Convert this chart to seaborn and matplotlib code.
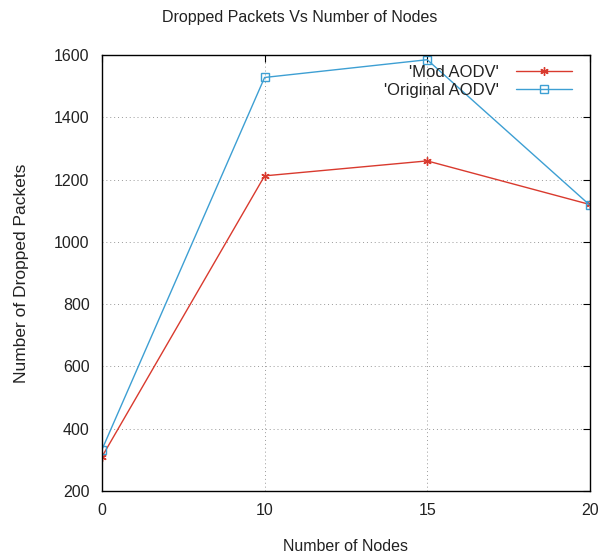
import numpy as np
import pandas as pd
import matplotlib
matplotlib.use("Agg")
import matplotlib.pyplot as plt
import seaborn as sns

# data
nodes = [0, 10, 15, 20]
mod_aodv = [310, 1212, 1260, 1120]
orig_aodv = [333, 1528, 1585, 1118]
series_names = ["'Mod AODV'", "'Original AODV'"]

# x axis in the original is evenly spaced categories
pos = list(range(len(nodes)))
df = pd.DataFrame({
    "pos": pos * 2,
    "dropped": mod_aodv + orig_aodv,
    "proto": [series_names[0]] * len(nodes) + [series_names[1]] * len(nodes),
})

sns.set_style("white")
plt.rcParams["font.family"] = ["Liberation Sans", "DejaVu Sans"]

fig = plt.figure(figsize=(6, 5.56), dpi=100)
ax = fig.add_axes([0.17, 0.117, 0.813, 0.784])

colors = ["#d93a2e", "#3d9fd3"]
markers = [(6, 2, 0), "s"]
for name, c, m in zip(series_names, colors, markers):
    sns.lineplot(data=df[df["proto"] == name], x="pos", y="dropped", color=c,
                 marker=m, markersize=6, linewidth=1.0, label=name,
                 markerfacecolor="none", markeredgecolor=c, markeredgewidth=1.0,
                 ax=ax)

ax.set_xlim(0, 3)
ax.set_ylim(200, 1600)
ax.set_xticks(pos)
ax.set_xticklabels([str(n) for n in nodes])
ax.set_yticks(np.arange(200, 1601, 200))
ax.tick_params(direction="in", top=True, right=True, length=5, labelsize=11.5,
               colors="black", pad=9)
for lbl in ax.get_xticklabels() + ax.get_yticklabels():
    lbl.set_color("#222222")

ax.grid(True, linestyle=(0, (1, 3)), color="#999999", linewidth=0.7)
for s in ax.spines.values():
    s.set_color("black")
    s.set_linewidth(1.0)

fig.text(0.5, 0.968, "Dropped Packets Vs Number of Nodes", fontsize=11.5,
         color="#222222", ha="center", va="center")
ax.set_xlabel("Number of Nodes", fontsize=11.5, color="#222222", labelpad=15)
ax.set_ylabel("Number of Dropped Packets", fontsize=12.5, color="#222222", labelpad=18)

handles, labels = ax.get_legend_handles_labels()
leg = ax.legend(handles, labels, loc="upper right", frameon=False, markerfirst=False,
                fontsize=12, handlelength=3.4, borderaxespad=0.2, labelspacing=0.15,
                handletextpad=1.0, bbox_to_anchor=(0.985, 1.0))
for t in leg.get_texts():
    t.set_ha("right")
    t.set_color("#222222")

fig.savefig("out.png", dpi=100)
